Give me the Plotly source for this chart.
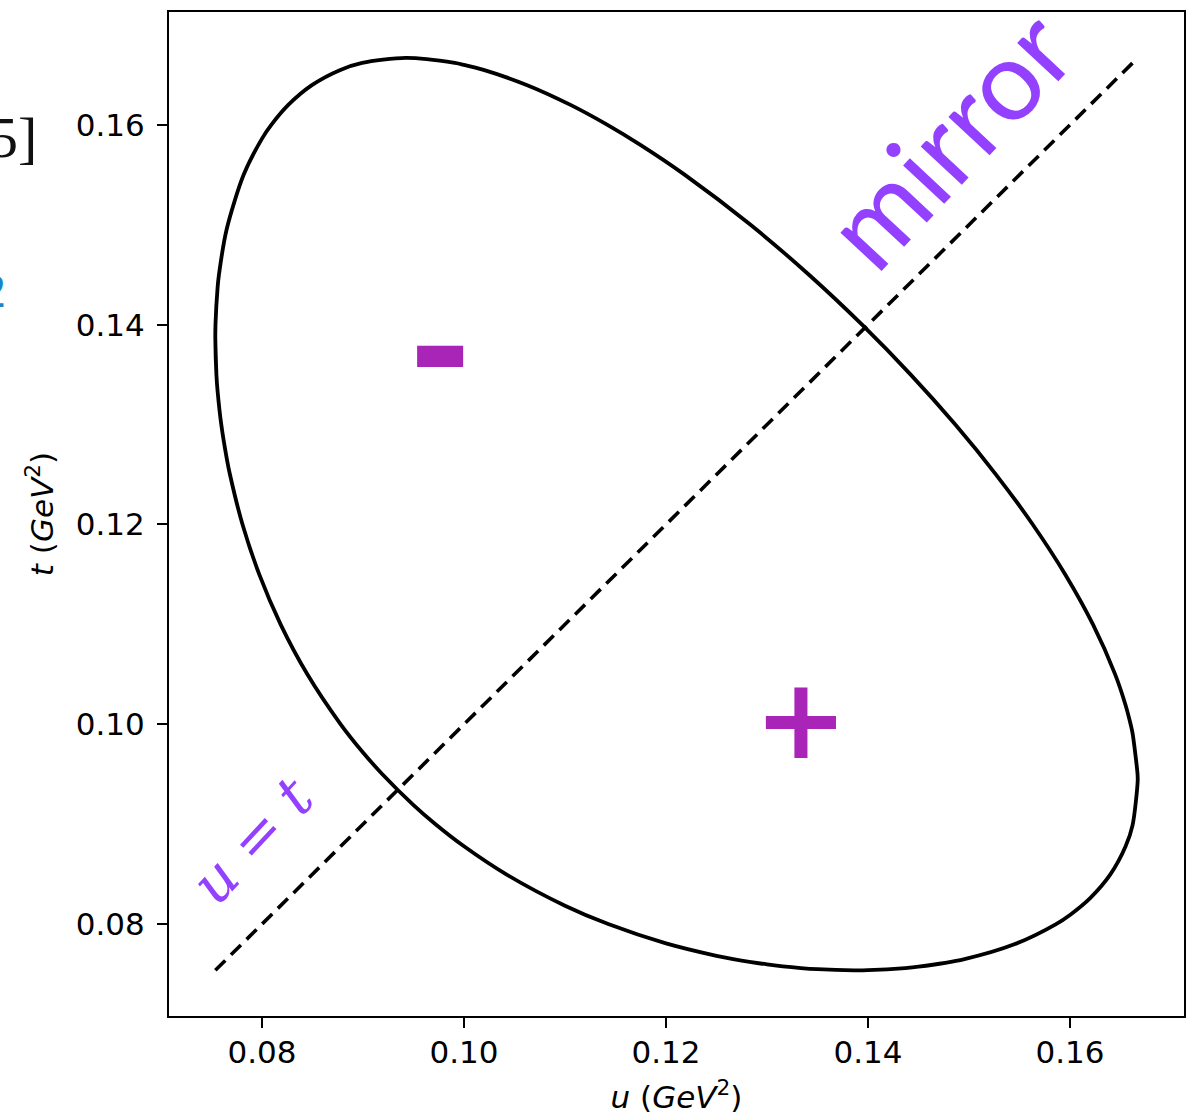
import plotly.graph_objects as go

# Dalitz-plot boundary points (u, t) in GeV^2 (closed loop)
u_boundary = [0.075392, 0.075376, 0.075483, 0.0756, 0.075966, 0.0765, 0.076825, 0.07807, 0.079726,
              0.08184, 0.084489, 0.087788, 0.09, 0.091917, 0.095, 0.097178, 0.10, 0.104149,
              0.11, 0.114281, 0.12, 0.125, 0.12665, 0.13, 0.133355, 0.135, 0.13863,
              0.14, 0.143696, 0.145, 0.149557, 0.154551, 0.158627, 0.16, 0.162, 0.164,
              0.1655, 0.1662, 0.166702,
              0.16669, 0.1662, 0.166005, 0.1655, 0.164473, 0.162275, 0.159529, 0.156312,
              0.152675, 0.148644, 0.144227, 0.139412, 0.134155, 0.12837, 0.121868, 0.117462,
              0.114202, 0.110545, 0.1062, 0.101935, 0.10, 0.099087, 0.094254,
              0.089915, 0.087757, 0.084974, 0.082602, 0.080917, 0.08, 0.078179, 0.0765,
              0.075735, 0.0756, 0.075392, 0.075376, 0.075483]
t_boundary = [0.14, 0.13863, 0.135, 0.133355, 0.13, 0.12665, 0.125, 0.12, 0.115,
              0.11, 0.105, 0.10, 0.097178, 0.095, 0.091917, 0.09, 0.087788, 0.085,
              0.08184, 0.08, 0.07807, 0.076825, 0.0765, 0.075966, 0.0756, 0.075483, 0.075376,
              0.075392, 0.0756, 0.075735, 0.0765, 0.078, 0.08, 0.080917, 0.082602, 0.084974,
              0.087757, 0.089915, 0.094254,
              0.095, 0.099087, 0.10, 0.101935, 0.105, 0.11, 0.115, 0.12,
              0.125, 0.13, 0.135, 0.14, 0.145, 0.15, 0.155, 0.158,
              0.16, 0.162, 0.164, 0.1655, 0.166005, 0.1662, 0.166702,
              0.1662, 0.1655, 0.164, 0.162, 0.16, 0.158627, 0.155, 0.149557,
              0.145, 0.143696, 0.14, 0.13863, 0.135]

# mirror line u = t
diag_u = [0.075376, 0.166702]
diag_t = [0.075376, 0.166702]

tick_vals = [0.08, 0.10, 0.12, 0.14, 0.16]
tick_text = ["0.08", "0.10", "0.12", "0.14", "0.16"]
x_range = [0.07079, 0.17129]
y_range = [0.0708, 0.1713]

fig = go.Figure()
fig.add_trace(go.Scatter(x=diag_u, y=diag_t, mode="lines",
                         line=dict(color="black", width=3.6, dash="14px,8px"),
                         showlegend=False, hoverinfo="skip"))
fig.add_trace(go.Scatter(x=u_boundary, y=t_boundary, mode="lines",
                         line=dict(color="black", width=3.8, shape="spline", smoothing=0.8),
                         showlegend=False, hoverinfo="skip"))

purple = "#9440FF"
magenta = "#A925B8"
anns = [
    dict(x=0.1478, y=0.1587, text="mirror", textangle=-47, showarrow=False,
         font=dict(family="Lato", size=111, color=purple), xanchor="center", yanchor="middle"),
    dict(x=0.0791, y=0.0884, text="<i>u</i> = <i>t</i>", textangle=-47, showarrow=False,
         font=dict(family="DejaVu Serif", size=58, color=purple), xanchor="center", yanchor="middle"),
    dict(x=0.09762, y=0.1377, text="-", showarrow=False,
         font=dict(family="DejaVu Sans", size=150, color=magenta, weight="bold"),
         xanchor="center", yanchor="middle"),
    dict(x=0.13337, y=0.1005, text="+", showarrow=False,
         font=dict(family="DejaVu Sans", size=112, color=magenta, weight="bold"),
         xanchor="center", yanchor="middle"),
    dict(xref="paper", yref="paper", x=-0.128, y=0.875, text="5]", showarrow=False,
         font=dict(family="Liberation Serif", size=58, color="#111111"),
         xanchor="right", yanchor="middle"),
    dict(xref="paper", yref="paper", x=-0.1586, y=0.723, text="2", showarrow=False,
         font=dict(family="Liberation Serif", size=48, color="#1A86C8"),
         xanchor="right", yanchor="middle"),
]

axis_common = dict(showgrid=False, zeroline=False, showline=True, linecolor="black",
                   linewidth=2.2, mirror=True, ticks="outside", ticklen=10, tickwidth=2.2,
                   tickcolor="black", tickvals=tick_vals, ticktext=tick_text, automargin=False,
                   tickfont=dict(family="DejaVu Sans", size=31, color="black"))

fig.update_layout(
    width=1198, height=1115,
    margin=dict(l=169, r=14, t=12, b=99),
    paper_bgcolor="white", plot_bgcolor="white",
    xaxis=dict(range=x_range, title=dict(text="<i>u</i> (<i>GeV</i><sup>2</sup>)",
               font=dict(family="DejaVu Sans", size=31, color="black"), standoff=20),
               ticklabelstandoff=-2, **axis_common),
    yaxis=dict(range=y_range, title=dict(text="<i>t</i> (<i>GeV</i><sup>2</sup>)",
               font=dict(family="DejaVu Sans", size=31, color="black"), standoff=13),
               ticklabelstandoff=6, **axis_common),
    annotations=anns,
)

fig.write_html("out.html", config={"displayModeBar": False},
               post_script="document.body.style.margin='0px';")
